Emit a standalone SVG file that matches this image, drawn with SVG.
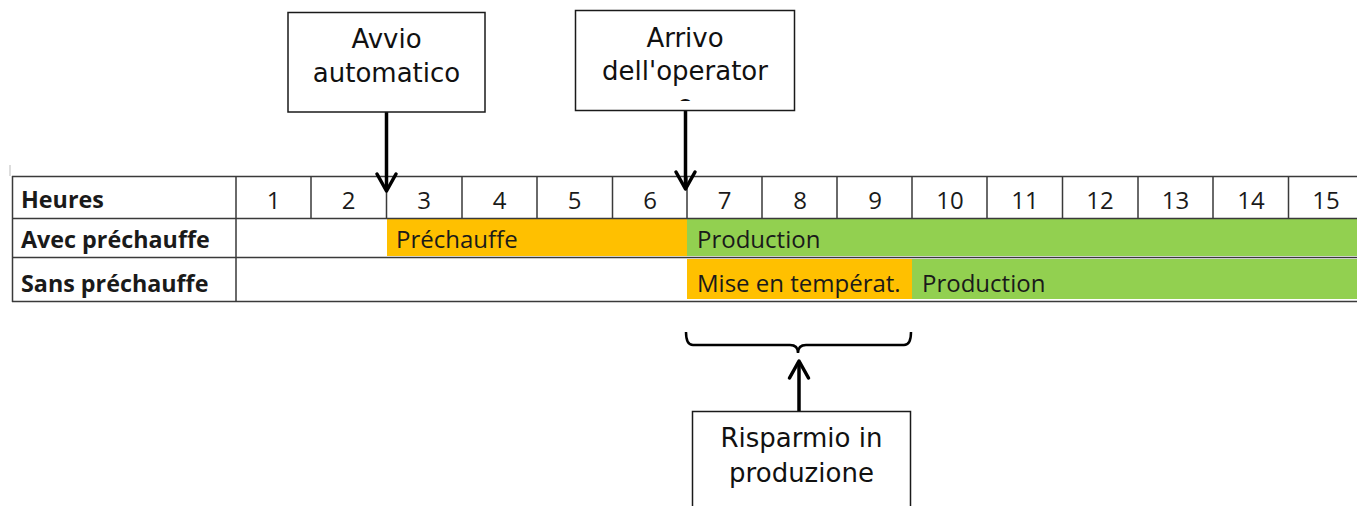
<svg xmlns="http://www.w3.org/2000/svg" width="1357" height="506" viewBox="0 0 1357 506">
<style>
.cell{font-family:"Open Sans",sans-serif;font-size:24px;fill:#1a1a1a}
.num{font-family:"Open Sans",sans-serif;font-size:24px;fill:#1a1a1a;text-anchor:middle}
.lbl{font-family:"Open Sans",sans-serif;font-size:23.3px;font-weight:bold;fill:#1a1a1a}
.grid{stroke:#3a3a3a;stroke-width:1.5;fill:none}
.box{fill:#fff;stroke:#1a1a1a;stroke-width:1.5}
.btxt{font-family:"DejaVu Sans",sans-serif;font-size:26px;fill:#111;text-anchor:middle}
.conn{stroke:#000;stroke-width:3.5;fill:none}
.head{stroke:#000;stroke-width:3.5;fill:none;stroke-linecap:round;stroke-linejoin:round}
</style>
<defs>
<clipPath id="clipArr"><rect x="576" y="11" width="218" height="90"/></clipPath>
</defs>
<rect width="1357" height="506" fill="#fff"/>
<g id="table">
<rect x="387" y="219" width="300" height="37" fill="#FFC000"/>
<rect x="687" y="219" width="670" height="37" fill="#92D050"/>
<rect x="687" y="259" width="225" height="40" fill="#FFC000"/>
<rect x="912" y="259" width="445" height="40" fill="#92D050"/>
<line x1="10" y1="165" x2="10" y2="176" stroke="#bbb" stroke-width="1"/>
<path class="grid" d="M12,176.5H1357M12,218.5H1357M12,257.5H1357M12,301.5H1357"/>
<path class="grid" d="M12.5,176V302M236,176V302"/>
<path class="grid" d="M311,176V218M386.5,176V218M462,176V218M537,176V218M612.5,176V218M687,176V218M762,176V218M837,176V218M912,176V218M987,176V218M1062.5,176V218M1138,176V218M1213,176V218M1288.5,176V218"/>
<text class="lbl" x="21" y="208">Heures</text>
<text class="lbl" x="21" y="248">Avec préchauffe</text>
<text class="lbl" x="21" y="292">Sans préchauffe</text>
<text class="num" x="273.5" y="209">1</text>
<text class="num" x="348.5" y="209">2</text>
<text class="num" x="424" y="209">3</text>
<text class="num" x="499.5" y="209">4</text>
<text class="num" x="574.5" y="209">5</text>
<text class="num" x="650" y="209">6</text>
<text class="num" x="724.5" y="209">7</text>
<text class="num" x="800" y="209">8</text>
<text class="num" x="875" y="209">9</text>
<text class="num" x="950" y="209">10</text>
<text class="num" x="1025" y="209">11</text>
<text class="num" x="1100" y="209">12</text>
<text class="num" x="1175.5" y="209">13</text>
<text class="num" x="1251" y="209">14</text>
<text class="num" x="1326" y="209">15</text>
<text class="cell" x="396" y="248">Préchauffe</text>
<text class="cell" x="697" y="248">Production</text>
<text class="cell" x="697" y="292">Mise en températ.</text>
<text class="cell" x="922" y="292">Production</text>
</g>
<g id="connectors">
<path class="conn" d="M386.5,112V190"/>
<path class="head" d="M377,174L386.5,191L396,174"/>
<path class="conn" d="M685.5,110V188"/>
<path class="head" d="M676,172L685.5,189L695,172"/>
<path d="M686,332Q686,345 693,345H790Q798,345 798,353Q798,345 806,345H904Q911,345 911,332" fill="none" stroke="#000" stroke-width="2.5"/>
<path class="conn" d="M799,412V363"/>
<path class="head" d="M789.5,378L799,361L808.5,378"/>
</g>
<g id="node-avvio">
<rect class="box" x="288" y="12.5" width="197" height="99.5"/>
<text class="btxt" x="386.5" y="48">Avvio</text>
<text class="btxt" x="386.5" y="82">automatico</text>
</g>
<g id="node-arrivo">
<rect class="box" x="575.5" y="10.5" width="219" height="100"/>
<g clip-path="url(#clipArr)">
<text class="btxt" x="685" y="46.5">Arrivo</text>
<text class="btxt" x="685" y="80">dell'operator</text>
<text class="btxt" x="685" y="113.5">e</text>
</g>
</g>
<g id="node-risparmio">
<rect class="box" x="692.5" y="411.5" width="218" height="100"/>
<text class="btxt" x="801.5" y="446.5">Risparmio in</text>
<text class="btxt" x="801.5" y="481.5">produzione</text>
</g>
</svg>
